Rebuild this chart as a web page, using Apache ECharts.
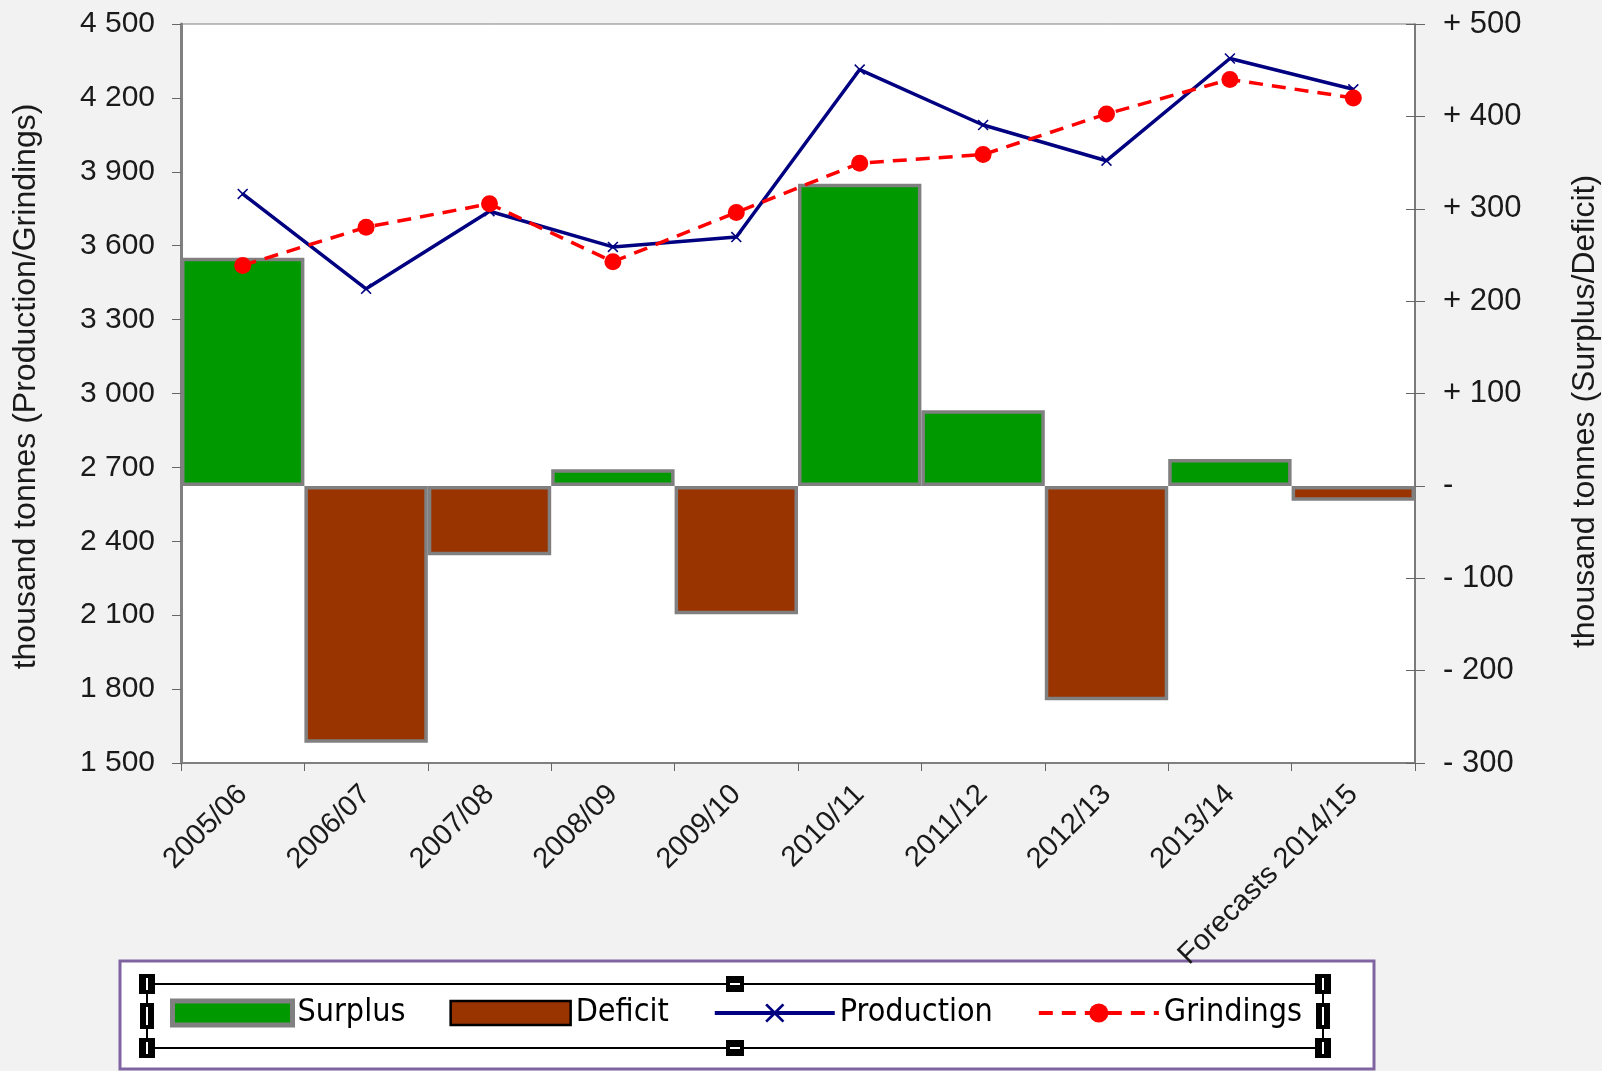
<!DOCTYPE html>
<html>
<head>
<meta charset="utf-8">
<script src="https://cdn.jsdelivr.net/npm/echarts@6/dist/echarts.min.js"></script>
<style>
  html, body { margin: 0; padding: 0; background: #f2f2f2; }
  #chart { width: 1602px; height: 1071px; }
</style>
</head>
<body>
<div id="chart"></div>
<script>
// seasons on the category axis
const categories = ['2005/06', '2006/07', '2007/08', '2008/09', '2009/10',
  '2010/11', '2011/12', '2012/13', '2013/14', 'Forecasts 2014/15'];

// thousand tonnes, right axis
const surplus = [247, null, null, 18, null, 327, 82, null, 29, null];
const deficit = [null, -278, -75, null, -139, null, null, -232, null, -16];

// thousand tonnes, left axis
const production = [3810, 3425, 3740, 3595, 3635, 4315, 4090, 3945, 4360, 4235];
const grindings = [3520, 3675, 3770, 3535, 3735, 3935, 3970, 4135, 4275, 4200];

// axis ranges [min, max, step]
const leftTicks = [1500, 4500, 300];
const rightTicks = [-300, 500, 100];

const labelFont = '"Liberation Sans", Arial, sans-serif';
const legendFont = '"Liberation Sans Narrow", "DejaVu Sans Condensed", sans-serif';

function spaced(v) {
  return String(v).replace(/\B(?=(\d{3})+(?!\d))/g, ' ');
}
function signed(v) {
  if (v > 0) return '+ ' + v;
  if (v < 0) return '- ' + (-v);
  return '-';
}

// excel selection frame round the legend
const frame = { l: 147, r: 1323, t: 984, b: 1048 };
function handle(cx, cy, w, h, vertical) {
  return [{
    type: 'rect', silent: true, z: 2,
    shape: { x: cx - w / 2, y: cy - h / 2, width: w, height: h },
    style: { fill: '#000' }
  }, {
    type: 'line', silent: true, z: 3,
    shape: vertical
      ? { x1: cx, y1: cy - h / 2 + 4, x2: cx, y2: cy + h / 2 - 4 }
      : { x1: cx - w / 2 + 4, y1: cy, x2: cx + w / 2 - 4, y2: cy },
    style: { stroke: '#fff', lineWidth: 2 }
  }];
}
const midX = (frame.l + frame.r) / 2, midY = (frame.t + frame.b) / 2;
let graphics = [
  { type: 'rect', silent: true, z: 0,
    shape: { x: 120, y: 961, width: 1254, height: 108 },
    style: { fill: '#fff', stroke: '#8064a2', lineWidth: 3 } },
  { type: 'rect', silent: true, z: 1,
    shape: { x: frame.l, y: frame.t, width: frame.r - frame.l, height: frame.b - frame.t },
    style: { fill: 'none', stroke: '#000', lineWidth: 2 } }
];
graphics = graphics
  .concat(handle(frame.l, frame.t, 16, 20, true))
  .concat(handle(frame.r, frame.t, 16, 20, true))
  .concat(handle(frame.l, frame.b, 16, 20, true))
  .concat(handle(frame.r, frame.b, 16, 20, true))
  .concat(handle(frame.l, midY, 14, 26, true))
  .concat(handle(frame.r, midY, 14, 26, true))
  .concat(handle(midX, frame.t, 18, 16, false))
  .concat(handle(midX, frame.b, 18, 16, false));

const chart = echarts.init(document.getElementById('chart'));

const option = {
  animation: false,
  backgroundColor: '#f2f2f2',
  grid: {
    left: 181, right: 187, top: 24, bottom: 308,
    show: true, backgroundColor: '#fff',
    borderColor: '#808080', borderWidth: 1,
    outerBoundsMode: 'none'
  },
  graphic: graphics,
  legend: {
    left: 170, top: 997, padding: 0, z: 10,
    itemWidth: 120, itemHeight: 24, itemGap: 44,
    selectedMode: false,
    textStyle: { fontFamily: legendFont, fontSize: 32, color: '#000', lineHeight: 30 },
    data: [
      { name: 'Surplus', icon: 'rect', itemStyle: { borderColor: '#808080', borderWidth: 5 } },
      { name: 'Deficit', icon: 'rect', itemStyle: { borderColor: '#000', borderWidth: 2.5 } },
      { name: 'Production', lineStyle: { width: 4 } },
      { name: 'Grindings', lineStyle: { width: 4 } }
    ]
  },
  xAxis: {
    type: 'category',
    data: categories,
    axisLine: { onZero: false, lineStyle: { color: '#808080', width: 2 } },
    axisTick: { show: true, length: 8, lineStyle: { color: '#666' } },
    axisLabel: {
      interval: 0, rotate: 45, margin: 27, padding: [30, 0, 0, 0],
      fontFamily: labelFont, fontSize: 29, color: '#1a1a1a'
    },
    splitLine: { show: false }
  },
  yAxis: [
    {
      type: 'value', position: 'left',
      min: leftTicks[0], max: leftTicks[1], interval: leftTicks[2],
      name: 'thousand tonnes (Production/Grindings)',
      nameLocation: 'middle', nameRotate: 90, nameGap: 139,
      nameTextStyle: { fontFamily: labelFont, fontSize: 32, color: '#1a1a1a', padding: [0, 0, 0, 14] },
      axisLine: { show: true, lineStyle: { color: '#808080', width: 3 } },
      axisTick: { show: true, length: 9, lineStyle: { color: '#666' } },
      axisLabel: { margin: 26, fontFamily: labelFont, fontSize: 30, color: '#1a1a1a', formatter: spaced },
      splitLine: { show: false }
    },
    {
      type: 'value', position: 'right',
      min: rightTicks[0], max: rightTicks[1], interval: rightTicks[2],
      name: 'thousand tonnes (Surplus/Deficit)',
      nameLocation: 'middle', nameRotate: 90, nameGap: 154,
      nameTextStyle: { fontFamily: labelFont, fontSize: 32, color: '#1a1a1a', padding: [0, 36, 0, 0] },
      axisLine: { show: true, lineStyle: { color: '#666', width: 1.5 } },
      axisTick: { show: true, length: 10, lineStyle: { color: '#666' } },
      axisLabel: { margin: 28, fontFamily: labelFont, fontSize: 31, color: '#1a1a1a', formatter: signed },
      splitLine: { show: false }
    },
    {
      // inner half of the crossing ticks on the right axis
      type: 'value', position: 'right',
      min: rightTicks[0], max: rightTicks[1], interval: rightTicks[2],
      axisLine: { show: false },
      axisTick: { show: true, inside: true, length: 9, lineStyle: { color: '#666' } },
      axisLabel: { show: false },
      splitLine: { show: false }
    }
  ],
  series: [
    {
      name: 'Surplus', type: 'bar', yAxisIndex: 1, stack: 'balance',
      barCategoryGap: '0%', data: surplus, z: 2,
      itemStyle: { color: '#009900', borderColor: '#808080', borderWidth: 3.5 }
    },
    {
      name: 'Deficit', type: 'bar', yAxisIndex: 1, stack: 'balance',
      barCategoryGap: '0%', data: deficit, z: 2,
      itemStyle: { color: '#993300', borderColor: '#808080', borderWidth: 3.5 }
    },
    {
      name: 'Production', type: 'line', yAxisIndex: 0, data: production, z: 5,
      symbol: 'path://M0,1 L1,0 L5,4 L9,0 L10,1 L6,5 L10,9 L9,10 L5,6 L1,10 L0,9 L4,5 Z',
      symbolSize: 11,
      itemStyle: { color: '#000080' },
      lineStyle: { color: '#000080', width: 3.5 }
    },
    {
      name: 'Grindings', type: 'line', yAxisIndex: 0, data: grindings, z: 6,
      symbol: 'circle', symbolSize: 17,
      itemStyle: { color: '#ff0000' },
      lineStyle: { color: '#ff0000', width: 3.5, type: [14, 9] }
    }
  ]
};

chart.setOption(option);
</script>
</body>
</html>
